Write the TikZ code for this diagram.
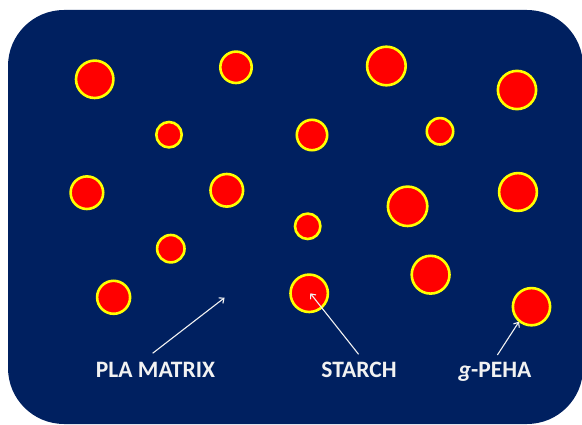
\documentclass[tikz,border=0pt]{standalone}
\usepackage{fontspec}
\setmainfont{Carlito}
\usetikzlibrary{arrows.meta}
\definecolor{bgblue}{HTML}{002060}
\definecolor{dotred}{HTML}{FF0000}
\definecolor{dotyel}{HTML}{FFFF00}
\definecolor{txtwhite}{HTML}{F2F2F2}
\tikzset{
  particle/.style={circle, fill=dotred, draw=dotyel, line width=2.6pt, inner sep=0pt, minimum size=#1},
  lbl/.style={text=txtwhite, font=\fontsize{23.5}{26}\selectfont\bfseries, inner sep=0pt, anchor=base},
  pointer/.style={draw=txtwhite, line width=1.1pt, -{Straight Barb[length=4pt,width=7pt]}}
}
\begin{document}
\begin{tikzpicture}[x=1pt,y=-1pt]
\useasboundingbox (0,0) rectangle (582,425);
\begin{scope}
\clip (0,0) rectangle (582,425);
\fill[bgblue, rounded corners=56pt] (8,10) rectangle (583,424);
\end{scope}
% particles (outer diameter incl. ring)
\node[particle=37.4pt] (p1) at (94.7,79.3) {};
\node[particle=31.4pt] (p2) at (236,67.3) {};
\node[particle=38.6pt] (p3) at (386.4,66) {};
\node[particle=38.2pt] (p4) at (517,90) {};
\node[particle=25.4pt] (p5) at (169,134.7) {};
\node[particle=30.4pt] (p6) at (312,135) {};
\node[particle=26.4pt] (p7) at (440,131.3) {};
\node[particle=32.6pt] (p8) at (86.9,192.7) {};
\node[particle=32.6pt] (p9) at (226.8,190.3) {};
\node[particle=39.4pt] (p10) at (407.6,206.3) {};
\node[particle=37.8pt] (p11) at (518,192) {};
\node[particle=25.4pt] (p12) at (307.7,226.3) {};
\node[particle=27.4pt] (p13) at (170.8,248.7) {};
\node[particle=33pt] (p14) at (113.6,297.3) {};
\node[particle=37.4pt] (p15) at (309.2,293.3) {};
\node[particle=37.8pt] (p16) at (430.6,274.7) {};
\node[particle=37.2pt] (p17) at (531.5,306.7) {};
% labels
\node[lbl] (pla) at (155.5,377.5) {PLA MATRIX};
\node[lbl] (starch) at (359,377.5) {STARCH};
\node[lbl] (peha) at (495,377.5) {\textit{g}-PEHA};
% arrows
\coordinate (plaS) at (152.6,353.3);
\coordinate (plaE) at (224.6,297.7);
\coordinate (stS) at (358.6,354.3);
\coordinate (stE) at (310.3,293.3);
\coordinate (peS) at (497.4,355);
\coordinate (peE) at (519,321.7);
\draw[pointer] (plaS) -- (plaE);
\draw[pointer] (stS) -- (stE);
\draw[pointer] (peS) -- (peE);
\end{tikzpicture}
\end{document}
